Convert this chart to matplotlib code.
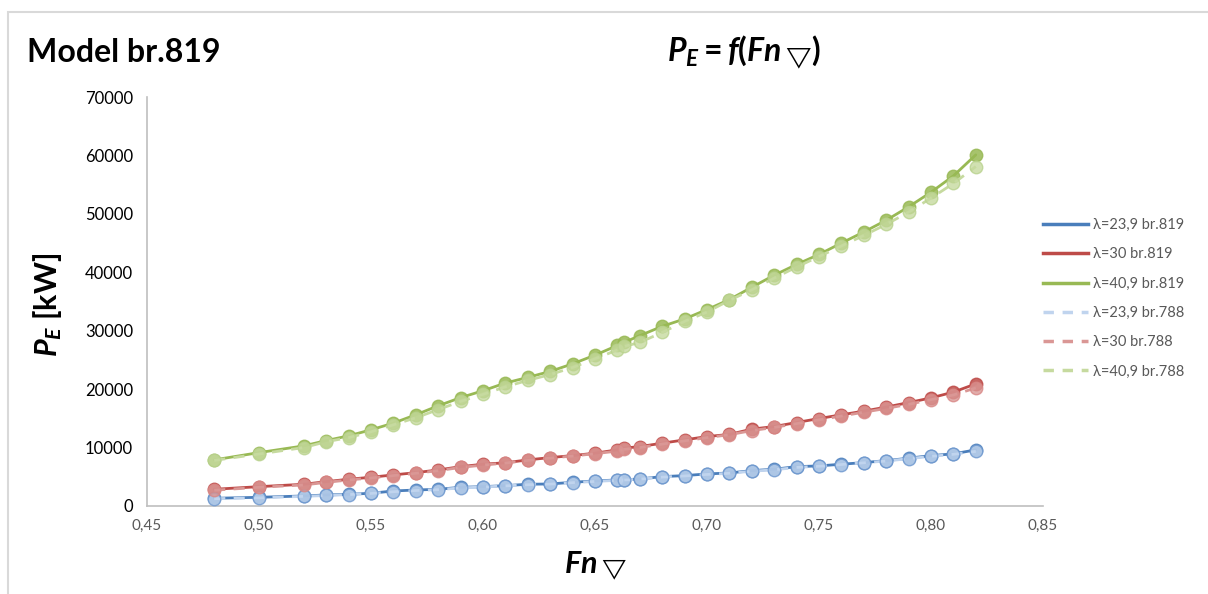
import matplotlib
matplotlib.use("Agg")
import matplotlib.pyplot as plt
from matplotlib.lines import Line2D
from matplotlib.patches import Rectangle

plt.rcParams["font.family"] = ["Lato", "DejaVu Sans"]
plt.rcParams["mathtext.fontset"] = "custom"
plt.rcParams["mathtext.it"] = "Lato:italic:bold"
plt.rcParams["mathtext.rm"] = "Lato:bold"
plt.rcParams["mathtext.bf"] = "Lato:bold"
plt.rcParams["mathtext.fallback"] = "stixsans"

# Froude number (volume) values
fn = [0.48, 0.50, 0.52, 0.53, 0.54, 0.55, 0.56, 0.57, 0.58, 0.59, 0.60,
      0.61, 0.62, 0.63, 0.64, 0.65, 0.66, 0.663, 0.67, 0.68, 0.69, 0.70,
      0.71, 0.72, 0.73, 0.74, 0.75, 0.76, 0.77, 0.78, 0.79, 0.80, 0.81, 0.82]

# effective power P_E [kW], model br.819
blue_819 = [1320, 1490, 1720, 1890, 2000, 2180, 2570, 2740, 2860, 3200, 3310,
            3490, 3720, 3770, 4060, 4290, 4460, 4480, 4630, 5030, 5200, 5490,
            5650, 6060, 6290, 6740, 6860, 7150, 7430, 7770, 8180, 8630, 8920, 9610]
red_819 = [2860, 3310, 3720, 4170, 4580, 4920, 5320, 5710, 6170, 6740, 7150,
           7400, 7890, 8290, 8630, 9040, 9610, 9900, 10170, 10750, 11320, 11890,
           12250, 13160, 13600, 14290, 14970, 15610, 16240, 16930, 17700, 18500, 19500, 20900]
green_819 = [7890, 9140, 10290, 11200, 12010, 13040, 14190, 15610, 17150, 18550, 19730,
             21050, 22010, 23040, 24330, 25820, 27470, 28000, 29160, 30750, 32020, 33620,
             35330, 37440, 39500, 41340, 43050, 45000, 46900, 48900, 51200, 53700, 56500, 60100]

# model br.788
blue_788 = [1250, 1400, 1650, 1800, 1950, 2150, 2450, 2650, 2800, 3100, 3250,
            3450, 3650, 3750, 4000, 4200, 4400, 4450, 4600, 4950, 5150, 5400,
            5600, 5950, 6200, 6600, 6800, 7100, 7400, 7700, 8100, 8500, 8850, 9350]
red_788 = [2700, 3200, 3600, 4050, 4450, 4800, 5200, 5600, 6050, 6600, 7000,
           7350, 7800, 8200, 8550, 8950, 9400, 9700, 10000, 10600, 11150, 11700,
           12200, 12900, 13450, 14100, 14750, 15400, 16050, 16700, 17400, 18200, 19000, 20200]
green_788 = [7800, 8900, 10000, 11000, 11700, 12700, 13900, 15100, 16500, 17900, 19100,
             20400, 21500, 22500, 23700, 25200, 26700, 27300, 28000, 29700, 31600, 33200,
             35200, 37000, 39000, 40900, 42700, 44500, 46300, 48200, 50300, 52700, 55200, 58100]

labels_819 = ["λ=23,9 br.819", "λ=30 br.819", "λ=40,9 br.819"]
labels_788 = ["λ=23,9 br.788", "λ=30 br.788", "λ=40,9 br.788"]

x_ticks = [0.45, 0.50, 0.55, 0.60, 0.65, 0.70, 0.75, 0.80, 0.85]
y_ticks = [0, 10000, 20000, 30000, 40000, 50000, 60000, 70000]

col_819 = ["#4A7EBB", "#BE4B48", "#98B954"]
col_788 = ["#C0D4EE", "#DA9795", "#C6DA9F"]
edge_788 = ["#6E98CF", "#D98886", "#B9D28E"]

fig = plt.figure(figsize=(12.08, 5.94), dpi=100)
fig.patches.append(Rectangle((8 / 1208, -0.1), 1.2, 1 - 12 / 594 + 0.1,
                             transform=fig.transFigure, fill=False,
                             edgecolor="#D9D9D9", linewidth=1.5))
ax = fig.add_axes([147 / 1208, 1 - 506 / 594, (1043 - 147) / 1208, (506 - 97) / 594])

for ys, c in zip([blue_819, red_819, green_819], col_819):
    ax.plot(fn, ys, color=c, linewidth=2.0, solid_capstyle="round", zorder=3)
    ax.plot(fn, ys, linestyle="none", marker="o", markersize=9,
            markerfacecolor=c, markeredgecolor=c, alpha=0.85, zorder=3)

for ys, c, ec in zip([blue_788, red_788, green_788], col_788, edge_788):
    ax.plot(fn, ys, color=c, linewidth=2.0, linestyle=(0, (4, 3)), zorder=4)
    ax.plot(fn, ys, linestyle="none", marker="o", markersize=9,
            markerfacecolor=c, markeredgecolor=ec, markeredgewidth=1.0,
            alpha=0.8, zorder=4)

ax.set_xlim(0.45, 0.85)
ax.set_ylim(0, 70000)
ax.set_xticks(x_ticks)
ax.set_xticklabels([f"{v:.2f}".replace(".", ",") for v in x_ticks],
                   color="#595959", fontsize=11)
ax.set_yticks(y_ticks)
ax.set_yticklabels([str(v) for v in y_ticks], color="#000000", fontsize=12)
ax.tick_params(axis="x", length=0, pad=9)
ax.tick_params(axis="y", length=0, pad=10)
for s in ["top", "right"]:
    ax.spines[s].set_visible(False)
for s in ["left", "bottom"]:
    ax.spines[s].set_color("#BFBFBF")
    ax.spines[s].set_linewidth(1.2)

fig.text(27 / 1208, 1 - 52 / 594, "Model br.819", fontsize=23, fontweight="bold",
         ha="left", va="center")
fig.text(744 / 1208, 1 - 52 / 594, r"$P_E = f(Fn\,_{\bigtriangledown})$",
         fontsize=23, ha="center", va="center")
fig.text(47 / 1208, 1 - 305 / 594, r"$P_E$ [kW]", fontsize=22, fontweight="bold",
         rotation=90, ha="center", va="center")
fig.text(595 / 1208, 1 - 566 / 594, r"$Fn\,_{\bigtriangledown}$", fontsize=22,
         ha="center", va="center")

handles = [Line2D([], [], color=c, linewidth=2.5) for c in col_819]
handles += [Line2D([], [], color=c, linewidth=2.5, linestyle=(0, (3, 2.5))) for c in col_788]
fig.legend(handles, labels_819 + labels_788, loc="upper left",
           bbox_to_anchor=(1043 / 1208, 1 - 218 / 594), frameon=False,
           borderpad=0, borderaxespad=0,
           fontsize=10.5, labelcolor="#595959", handlelength=3.1,
           handletextpad=0.3, labelspacing=1.05)

fig.savefig("out.png", dpi=100)
